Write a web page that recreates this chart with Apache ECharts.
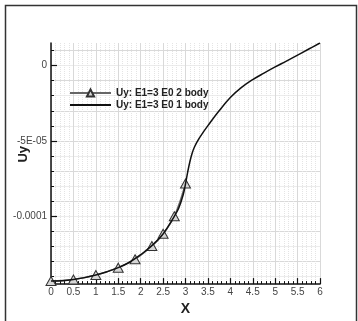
<!DOCTYPE html>
<html>
<head>
<meta charset="utf-8">
<title>Uy along X</title>
<script src="https://cdn.jsdelivr.net/npm/echarts@6/dist/echarts.min.js"></script>
<style>
  html, body { margin: 0; padding: 0; background: #fff; }
  #chart { width: 358px; height: 321px; }
</style>
</head>
<body>
<div id="chart"></div>
<script>
// Uy for the single-body model: position along X and displacement
const oneBodyX = [0, 0.25, 0.5, 0.75, 1, 1.25, 1.5, 1.75, 2, 2.25, 2.5, 2.75, 2.85, 2.95, 3.0,
  3.05, 3.1, 3.15, 3.2, 3.3, 3.4, 3.5, 3.75, 4, 4.25, 4.5, 4.75, 5, 5.25, 5.5, 5.75, 6];
const oneBodyUy = [-1.43e-4, -1.428e-4, -1.42e-4, -1.407e-4, -1.39e-4, -1.368e-4, -1.341e-4,
  -1.305e-4, -1.255e-4, -1.195e-4, -1.117e-4, -1.0e-4, -9.45e-5, -8.55e-5, -7.85e-5,
  -7.05e-5, -6.35e-5, -5.8e-5, -5.4e-5, -4.85e-5, -4.4e-5, -3.98e-5, -3.0e-5, -2.12e-5, -1.45e-5,
  -9.3e-6, -5.0e-6, -9.0e-7, 3.0e-6, 7.0e-6, 1.1e-5, 1.5e-5];

// Uy for the two-body model, sampled at the marked stations
const twoBodyX = [0, 0.5, 1, 1.5, 1.875, 2.25, 2.5, 2.75, 3.0];
const twoBodyUy = [-1.43e-4, -1.42e-4, -1.39e-4, -1.341e-4, -1.285e-4, -1.197e-4, -1.116e-4, -1.0e-4, -7.82e-5];

const seriesNames = ['Uy: E1=3 E0 2 body', 'Uy: E1=3 E0 1 body'];

// Labelled Uy ticks and their printed text
const yLabelValues = [-1e-4, -5e-5, 0];
const yLabelTexts = ['-0.0001', '-5E-05', '0'];
// Small Uy ticks
const yMinorTickValues = [-1.4e-4, -1.3e-4, -1.2e-4, -1.1e-4, -1.0e-4, -9e-5, -8e-5, -7e-5,
  -6e-5, -5e-5, -4e-5, -3e-5, -2e-5, -1e-5, 0, 1e-5];

const yMin = -1.45e-4, yMax = 1.5e-5;
const font = 'Liberation Sans, Arial, sans-serif';

const pairs = (xs, ys) => xs.map((x, i) => [x, ys[i]]);

const chart = echarts.init(document.getElementById('chart'), null, { renderer: 'canvas' });

chart.setOption({
  animation: false,
  backgroundColor: '#fff',
  grid: { left: 51, top: 43, right: 38, bottom: 34 },
  legend: {
    left: 64, top: 83, orient: 'vertical',
    itemWidth: 41, itemHeight: 9, itemGap: 2,
    data: [
      { name: seriesNames[0] },
      { name: seriesNames[1], itemStyle: { color: 'rgba(0,0,0,0)', borderWidth: 0 } }
    ],
    textStyle: { fontFamily: font, fontSize: 10, fontWeight: 'bold', color: '#222' }
  },
  xAxis: {
    type: 'value', min: 0, max: 6, interval: 0.5,
    name: 'X', nameLocation: 'middle', nameGap: 8,
    nameTextStyle: { fontFamily: font, fontSize: 14, fontWeight: 'bold', color: '#222' },
    axisLine: { show: true, onZero: false, lineStyle: { color: '#111', width: 1.5 } },
    axisTick: { show: true, inside: true, length: 6, lineStyle: { color: '#111', width: 1.2 } },
    minorTick: { show: true, splitNumber: 5, length: 3, lineStyle: { color: '#111', width: 1 } },
    axisLabel: { fontFamily: font, fontSize: 10, color: '#444', margin: 3,
      formatter: v => String(+v.toFixed(1)) },
    splitLine: { show: true, lineStyle: { color: '#d9d9d9', width: 1 } },
    minorSplitLine: { show: true, lineStyle: { color: '#e4e4e4', width: 1, type: [1, 1] } }
  },
  yAxis: [
    {
      type: 'value', min: yMin, max: yMax, interval: 5e-6, position: 'left',
      axisLine: { show: true, onZero: false, lineStyle: { color: '#111', width: 1.5 } },
      axisTick: { show: true, inside: true, length: 3, customValues: yMinorTickValues,
        lineStyle: { color: '#111', width: 1 } },
      axisLabel: {
        show: true, customValues: yLabelValues, margin: 4,
        fontFamily: font, fontSize: 10, color: '#444',
        formatter: v => {
          let best = 0;
          yLabelValues.forEach((t, i) => {
            if (Math.abs(t - v) < Math.abs(yLabelValues[best] - v)) best = i;
          });
          return yLabelTexts[best];
        }
      },
      splitLine: { show: true, lineStyle: { color: ['#ececec', '#d9d9d9'], width: 1 } }
    },
    {
      type: 'value', min: yMin, max: yMax, interval: 5e-6, position: 'left', offset: 0,
      axisLine: { show: false },
      axisTick: { show: true, inside: true, length: 6, customValues: yLabelValues,
        lineStyle: { color: '#111', width: 1.2 } },
      axisLabel: { show: false },
      splitLine: { show: false }
    }
  ],
  graphic: [
    {
      type: 'rect', silent: true, z: 100,
      shape: { x: 5.5, y: 5.5, width: 351, height: 340 },
      style: { fill: 'none', stroke: '#333', lineWidth: 1.5 }
    },
    {
      type: 'text', silent: true, left: 17, top: 146, rotation: Math.PI / 2,
      style: { text: 'Uy', font: 'bold 13px ' + font, fill: '#222' }
    }
  ],
  series: [
    {
      name: seriesNames[0], type: 'line', z: 2,
      data: pairs(twoBodyX, twoBodyUy),
      smooth: 0.4,
      symbol: 'triangle', symbolSize: [10, 9], showSymbol: true,
      lineStyle: { color: '#666', width: 1.5 },
      itemStyle: { color: '#d6d6d6', borderColor: '#333', borderWidth: 1 }
    },
    {
      name: seriesNames[1], type: 'line', z: 3,
      data: pairs(oneBodyX, oneBodyUy),
      smooth: 0.4,
      symbol: 'none',
      lineStyle: { color: '#111', width: 1.5 },
      itemStyle: { color: '#111' }
    }
  ]
});
</script>
</body>
</html>
